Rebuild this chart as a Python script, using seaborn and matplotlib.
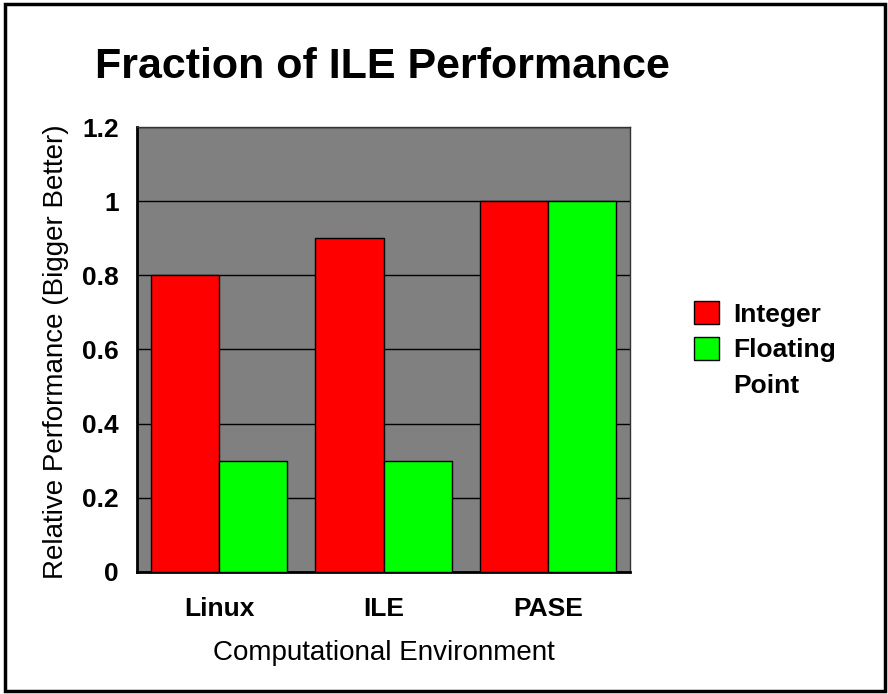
import pandas as pd
import matplotlib.pyplot as plt
import seaborn as sns
from matplotlib.patches import Rectangle

# values
environments = ["Linux", "ILE", "PASE"]
integer_perf = [0.8, 0.9, 1.0]
float_perf = [0.3, 0.3, 1.0]
series_names = ["Integer", "Floating Point"]
y_ticks = [0, 0.2, 0.4, 0.6, 0.8, 1.0, 1.2]
y_tick_labels = ["0", "0.2", "0.4", "0.6", "0.8", "1", "1.2"]

df = pd.DataFrame({
    "env": environments * 2,
    "value": integer_perf + float_perf,
    "kind": [series_names[0]] * 3 + [series_names[1]] * 3,
})

sns.set_theme(style="white")
plt.rcParams["font.family"] = ["Liberation Sans", "DejaVu Sans"]
plt.rcParams["text.color"] = "black"
plt.rcParams["axes.labelcolor"] = "black"
plt.rcParams["xtick.color"] = "black"
plt.rcParams["ytick.color"] = "black"

fig = plt.figure(figsize=(8.88, 6.94), dpi=100)
ax = fig.add_axes([0.1543, 0.1758, 0.5552, 0.6412])

sns.barplot(data=df, x="env", y="value", hue="kind", ax=ax,
            palette=["#ff0000", "#00ff00"], width=0.83, saturation=1,
            edgecolor="black", linewidth=1, errorbar=None, zorder=3)

ax.set_facecolor("#808080")
ax.set_ylim(0, 1.2)
ax.set_yticks(y_ticks)
ax.set_yticklabels(y_tick_labels)
ax.yaxis.grid(True, color="black", linewidth=1)
ax.set_axisbelow(True)
ax.tick_params(axis="y", length=0, pad=13, labelsize=19)
ax.tick_params(axis="x", length=0, pad=18, labelsize=19)
for lab in ax.get_xticklabels() + ax.get_yticklabels():
    lab.set_fontweight("bold")

for side in ["left", "bottom"]:
    ax.spines[side].set_color("black")
    ax.spines[side].set_linewidth(2)
for side in ["top", "right"]:
    ax.spines[side].set_color("#333333")
    ax.spines[side].set_linewidth(1)

ax.set_xlabel("Computational Environment", fontsize=20, va="top")
ax.xaxis.set_label_coords(0.5, -0.152)
ax.set_ylabel("Relative Performance (Bigger Better)", fontsize=20)
ax.yaxis.set_label_coords(-0.137, 0.495)

# legend: second series label wrapped onto two rows, like the original
handles, labels = ax.get_legend_handles_labels()
ax.get_legend().remove()
blank = Rectangle((0, 0), 1, 1, fill=False, edgecolor="none", visible=False)
first, second = labels[1].split(" ")
leg = ax.legend([handles[0], handles[1], blank], [labels[0], first, second],
                loc="center left", bbox_to_anchor=(1.13, 0.5), frameon=False,
                prop={"size": 19, "weight": "bold"}, handlelength=0.95,
                handleheight=0.95, handletextpad=0.55, labelspacing=0.38,
                borderpad=0, borderaxespad=0)
for h in leg.legend_handles[:2]:
    h.set_edgecolor("black")

fig.text(0.431, 0.8876, "Fraction of ILE Performance", ha="center", va="baseline",
         fontsize=31, fontweight="bold")

fig.patches.append(Rectangle((0.006, 0.004), 0.991, 0.99, transform=fig.transFigure,
                             fill=False, edgecolor="black", linewidth=2.5))

fig.savefig("out.png", dpi=100)
